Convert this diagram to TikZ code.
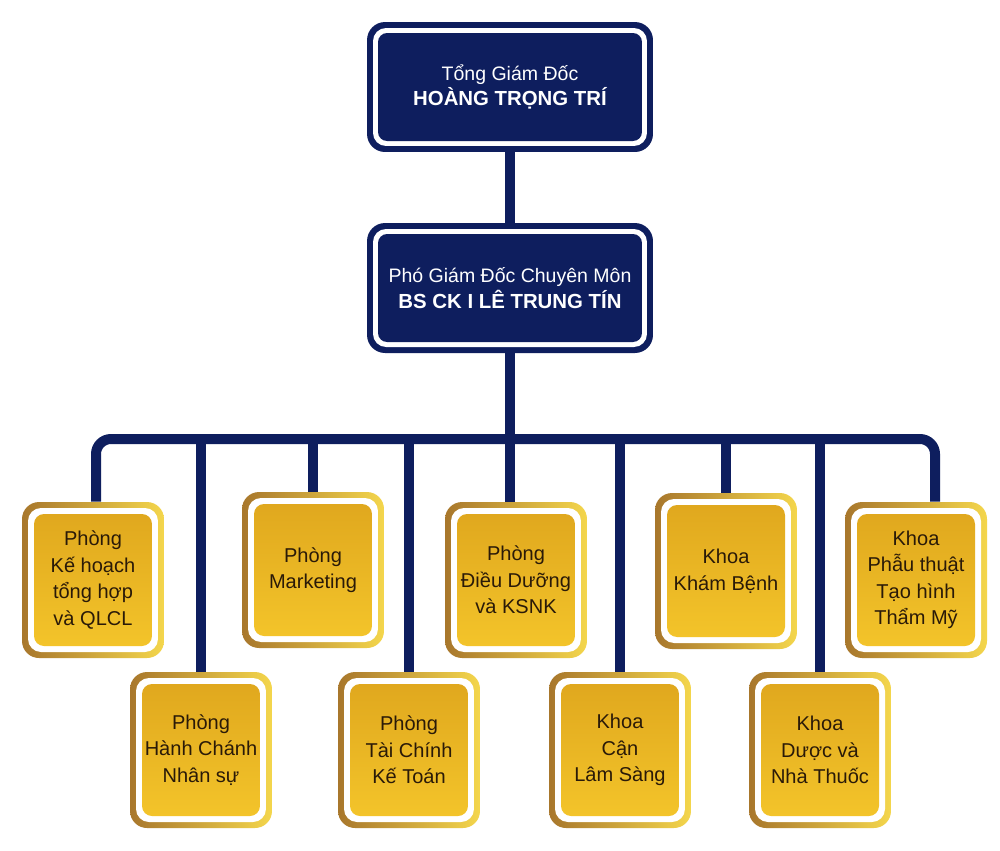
\documentclass[tikz,border=0pt]{standalone}
\usepackage{fontspec}
\setmainfont{Liberation Sans}
\definecolor{navy}{HTML}{0E1E5E}
\definecolor{goldD}{HTML}{A8772C}
\definecolor{goldL}{HTML}{F4D64C}
\definecolor{goldT}{HTML}{E0A81E}
\definecolor{goldB}{HTML}{F3C42A}
\definecolor{txt}{HTML}{2A1A08}
\begin{document}
\begin{tikzpicture}[x=0.02cm,y=-0.02cm,
  navybox/.style={rectangle, rounded corners=0.36cm, minimum width=5.72cm, minimum height=2.6cm,
    fill=navy, inner sep=0pt, text=white, align=center,
    font=\fontsize{11.1}{14.5}\selectfont,
    path picture={
      \fill[white, rounded corners=0.26cm]
        ([shift={(0.12cm,0.12cm)}]path picture bounding box.south west) rectangle
        ([shift={(-0.12cm,-0.12cm)}]path picture bounding box.north east);
      \fill[navy, rounded corners=0.18cm]
        ([shift={(0.22cm,0.22cm)}]path picture bounding box.south west) rectangle
        ([shift={(-0.22cm,-0.22cm)}]path picture bounding box.north east);
    }},
  goldbox/.style={rectangle, rounded corners=0.34cm, minimum width=2.84cm, minimum height=3.12cm,
    left color=goldD, right color=goldL, inner sep=0pt, text=txt, align=center,
    font=\fontsize{11.4}{15.1}\selectfont,
    path picture={
      \fill[white, rounded corners=0.26cm]
        ([shift={(0.12cm,0.12cm)}]path picture bounding box.south west) rectangle
        ([shift={(-0.12cm,-0.12cm)}]path picture bounding box.north east);
      \shade[top color=goldT, bottom color=goldB, rounded corners=0.2cm]
        ([shift={(0.24cm,0.24cm)}]path picture bounding box.south west) rectangle
        ([shift={(-0.24cm,-0.24cm)}]path picture bounding box.north east);
    }},
  conn/.style={draw=navy, line width=0.2cm}
]
\useasboundingbox (0,0) rectangle (1000,850);
\fill[white] (0,0) rectangle (1000,850);

\node[navybox] (g1) at (510,87) {Tổng Giám Đốc\\{\bfseries\fontsize{11.6}{14.5}\selectfont HOÀNG TRỌNG TRÍ}};
\node[navybox] (g2) at (510,288) {Phó Giám Đốc Chuyên Môn\\{\bfseries\fontsize{11.6}{14.5}\selectfont BS CK I LÊ TRUNG TÍN}};

\node[goldbox] (b1) at (93,580) {Phòng\\Kế hoạch\\tổng hợp\\và QLCL};
\node[goldbox] (b2) at (201,750) {Phòng\\Hành Chánh\\Nhân sự};
\node[goldbox] (b3) at (313,570) {Phòng\\Marketing};
\node[goldbox] (b4) at (409,750) {Phòng\\Tài Chính\\Kế Toán};
\node[goldbox] (b5) at (516,580) {Phòng\\Điều Dưỡng\\và KSNK};
\node[goldbox] (b6) at (620,750) {Khoa\\Cận\\Lâm Sàng};
\node[goldbox] (b7) at (726,571) {Khoa\\Khám Bệnh};
\node[goldbox] (b8) at (820,750) {Khoa\\Dược và\\Nhà Thuốc};
\node[goldbox] (b9) at (916,580) {Khoa\\Phẫu thuật\\Tạo hình\\Thẩm Mỹ};

\coordinate (bl) at (96,439);
\coordinate (br) at (935,439);

\draw[conn] (g1.south) -- (g2.north);
\draw[conn] (g2.south) -- (b5.north -| g2.south);
\draw[conn, rounded corners=0.3cm] (b1.north -| bl) -- (bl) -- (br) -- (b9.north -| br);
\draw[conn] (b2.north |- bl) -- (b2.north);
\draw[conn] (b3.north |- bl) -- (b3.north);
\draw[conn] (b4.north |- bl) -- (b4.north);
\draw[conn] (b6.north |- bl) -- (b6.north);
\draw[conn] (b7.north |- bl) -- (b7.north);
\draw[conn] (b8.north |- bl) -- (b8.north);
\end{tikzpicture}
\end{document}
